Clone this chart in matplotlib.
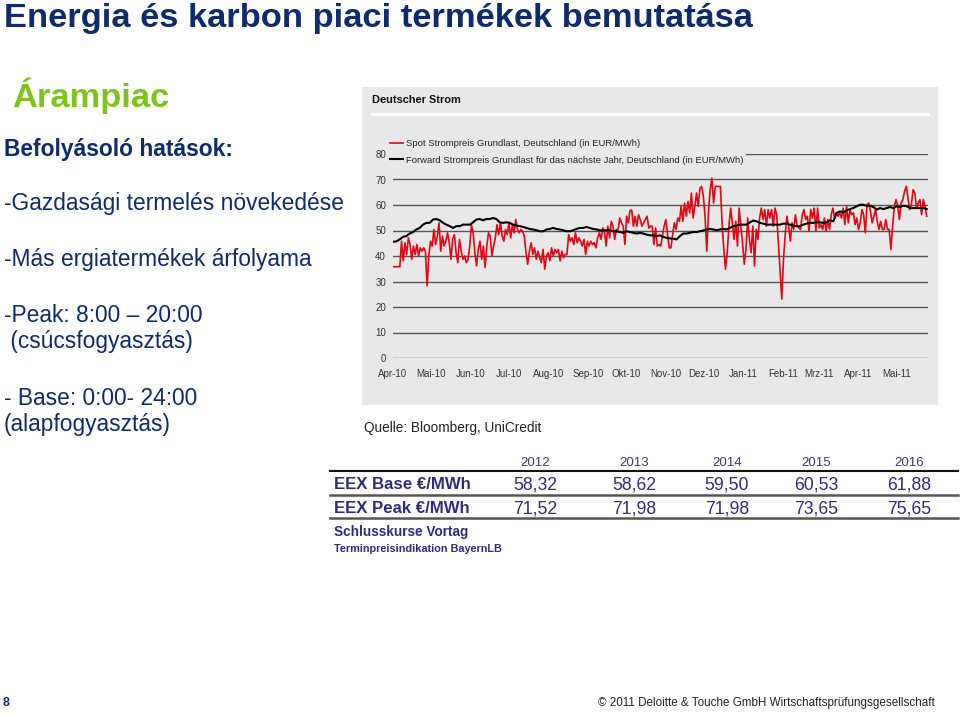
import matplotlib
matplotlib.use("Agg")
import matplotlib.pyplot as plt
from matplotlib.patches import Rectangle
from matplotlib.lines import Line2D
import pandas as pd

plt.rcParams['font.family'] = ['Liberation Sans', 'DejaVu Sans']

# ---------------- data ----------------
spot = [35.8, 35.8, 35.8, 35.8, 35.8, 45.8, 38.1, 45.2, 40.6, 47.1, 44.5, 38.7, 43.9, 40.6, 44.5,
        40.0, 43.2, 41.9, 43.2, 41.9, 28.3, 40.0, 45.8, 43.9, 50.4, 44.5, 47.8, 53.0, 41.9, 47.8,
        43.9, 45.8, 49.1, 45.2, 38.7, 46.5, 48.4, 41.3, 37.4, 46.5, 41.9, 38.7, 40.0, 37.4, 38.7,
        43.9, 52.3, 49.1, 41.3, 36.1, 42.6, 45.8, 38.7, 43.9, 35.5, 43.9, 49.1, 47.8, 40.0, 43.9,
        47.1, 52.3, 48.4, 53.0, 47.8, 45.8, 50.4, 48.4, 53.0, 47.1, 52.3, 49.1, 54.3, 50.4, 49.1,
        50.4, 49.7, 47.8, 41.3, 36.8, 41.9, 45.2, 40.6, 43.2, 38.7, 41.9, 39.4, 37.4, 42.6, 34.8,
        40.0, 41.3, 38.1, 43.2, 40.0, 42.6, 41.3, 42.6, 38.1, 41.9, 39.4, 40.6, 40.6, 48.4, 45.8,
        47.1, 44.5, 49.1, 45.2, 47.1, 45.8, 43.9, 46.5, 40.6, 45.8, 43.9, 45.8, 44.5, 45.2, 43.2,
        47.1, 49.1, 46.5, 51.0, 49.7, 43.9, 51.7, 47.1, 53.6, 51.7, 46.5, 50.4, 50.4, 54.9, 53.0,
        51.7, 44.5, 55.6, 53.0, 57.9, 57.9, 51.7, 55.6, 51.7, 56.2, 54.3, 51.7, 53.0, 54.3, 55.6,
        51.0, 51.7,
        51.7, 44.5, 51.0, 43.9, 44.5, 43.9, 47.8, 51.7, 54.3, 48.4, 43.2, 43.2, 48.4, 53.0, 50.4,
        54.9, 53.6, 59.5, 53.6, 60.8, 55.6, 61.4, 56.9, 64.7, 54.9, 59.5, 64.7, 59.5, 66.6, 67.3,
        63.4, 55.6, 41.9, 56.9, 66.0, 70.5, 60.8, 67.3, 67.3, 67.3, 67.3, 53.0, 42.6, 34.8, 41.3,
        51.7, 58.8, 53.0, 46.5, 53.6, 43.9, 58.8, 51.7, 45.2, 36.8, 42.6, 54.9, 46.5, 41.3, 51.7,
        36.1, 50.4, 46.5, 54.9, 58.8, 54.3, 58.2, 51.7, 58.2, 54.9, 58.2, 51.7, 58.8, 56.2, 45.2,
        34.8, 23.1, 38.7, 48.4, 55.6, 51.7, 45.8, 53.0, 50.4, 56.2, 51.7, 51.0, 50.4, 56.2, 58.2,
        54.3, 55.6, 49.7, 58.2, 54.9, 58.8, 49.7, 58.8, 51.0, 52.3, 50.4, 54.9, 49.7, 54.3, 50.4,
        56.2, 58.8, 54.9, 56.9, 55.6, 56.9, 54.9, 58.8, 52.3, 59.5, 53.0, 58.2, 56.2, 56.9, 52.3,
        54.9, 50.4, 53.0, 58.2, 56.2, 49.1, 60.1, 60.8, 57.5, 53.0, 55.6, 58.2, 53.6, 50.4, 53.6,
        50.4, 50.4, 54.3, 50.4, 50.4, 42.6, 51.7, 59.5, 62.1, 59.5, 54.3, 60.8, 62.1, 65.3, 67.3,
        62.7, 58.2, 60.1, 66.0, 64.7, 58.8, 60.8, 62.1, 56.2, 62.1, 59.5, 55.6]

forward = [45.6, 45.7, 46.5, 47.5, 47.8, 48.8, 49.4, 50.4, 51.0, 52.3, 53.0, 53.0, 54.3, 54.5, 54.0,
           53.0, 52.3, 51.7, 51.0, 51.7, 51.7, 52.3, 52.3, 52.3, 53.2, 54.3, 54.5, 54.0, 54.5, 54.5,
           54.9, 54.5, 53.2, 53.0, 53.2, 53.0, 52.3, 51.9, 51.7, 51.4, 51.0, 50.6, 50.4, 50.1, 49.7,
           49.7, 50.4, 50.6, 51.0, 50.6, 50.4, 50.1, 49.7, 49.7, 50.1, 50.6, 51.0, 51.0, 51.4, 51.0,
           50.6, 50.4, 50.1, 50.0, 50.1, 50.1, 49.7, 49.7, 49.4, 49.1, 49.7, 49.4, 49.1, 48.8, 49.1,
           48.8, 48.4, 48.1, 48.1, 47.8, 48.1,
           47.5, 47.1, 46.9, 46.8, 46.5, 47.8, 48.8, 48.8, 49.1, 49.4, 49.4, 49.7, 50.0, 50.4, 50.6,
           50.4, 50.1, 50.4, 50.6, 50.4, 51.0, 51.7, 51.9, 52.3, 52.3, 52.3, 53.2, 53.9, 53.6, 53.0,
           52.7, 52.3, 52.3, 52.3, 52.3, 52.3, 52.7, 52.7, 52.3, 51.9, 51.7, 51.7, 52.3, 52.7, 53.0,
           53.0, 53.2, 53.2, 53.0, 53.2, 54.0, 53.6, 56.9, 57.5, 57.1, 57.9, 58.4, 58.8, 59.5, 60.1,
           60.1, 59.7, 59.7, 59.2, 58.2, 58.8, 58.4, 58.8, 59.2, 58.8, 59.5, 59.2, 59.7, 59.5, 58.8,
           58.8, 58.8, 58.8, 58.8, 58.4]

start_date = "2010-04-01"
end_date = "2011-05-25"
month_labels = ["Apr-10", "Mai-10", "Jun-10", "Jul-10", "Aug-10", "Sep-10", "Okt-10",
                "Nov-10", "Dez-10", "Jan-11", "Feb-11", "Mrz-11", "Apr-11", "Mai-11"]
y_ticks = [0, 10, 20, 30, 40, 50, 60, 70, 80]

spot_label = "Spot Strompreis Grundlast, Deutschland (in EUR/MWh)"
fwd_label = "Forward Strompreis Grundlast für das nächste Jahr, Deutschland (in EUR/MWh)"

table_years = ["2012", "2013", "2014", "2015", "2016"]
eex_base = ["58,32", "58,62", "59,50", "60,53", "61,88"]
eex_peak = ["71,52", "71,98", "71,98", "73,65", "75,65"]

left_lines = ["-Gazdasági termelés növekedése",
              "-Más ergiatermékek árfolyama",
              "-Peak: 8:00 \u2013 20:00",
              " (csúcsfogyasztás)",
              "- Base: 0:00- 24:00",
              "(alapfogyasztás)"]

# ---------------- figure ----------------
W, H = 960, 714
fig = plt.figure(figsize=(W / 100, H / 100), dpi=100)
fig.patch.set_facecolor("white")


def fx(x):
    return x / W


def fy(y):
    return 1 - y / H


NAVY = "#0f2b6b"
TNAVY = "#2c2d7e"
GREEN = "#80c31f"

# slide title & text
fig.text(fx(4), fy(27), "Energia és karbon piaci termékek bemutatása", fontsize=24.8,
         fontweight="bold", color=NAVY, va="baseline", ha="left")
fig.text(fx(12), fy(107), "Árampiac", fontsize=24.8, fontweight="bold", color=GREEN,
         va="baseline", ha="left")
fig.text(fx(4), fy(156), "Befolyásoló hatások:", fontsize=16.4, fontweight="bold",
         color=NAVY, va="baseline", ha="left")
left_baselines = [210, 266, 322, 348, 405, 431]
for s, b in zip(left_lines, left_baselines):
    fig.text(fx(4), fy(b), s, fontsize=16.4, color=NAVY, va="baseline", ha="left")

# chart panel background
fig.patches.append(Rectangle((fx(362), fy(405)), fx(938) - fx(362), fy(87) - fy(405),
                             transform=fig.transFigure, facecolor="#e8e8e8",
                             edgecolor="none", zorder=-5))
fig.text(fx(372), fy(103), "Deutscher Strom", fontsize=7.9, fontweight="bold",
         color="#111111", va="baseline", ha="left")
fig.lines.append(Line2D([fx(372), fx(928)], [fy(114), fy(114)], transform=fig.transFigure,
                        color="white", lw=2.2, zorder=-4))

ax = fig.add_axes([fx(393), fy(358), fx(928) - fx(393), fy(154) - fy(358)])
ax.set_zorder(3)
ax.set_facecolor("none")
dates_spot = pd.date_range(start_date, end_date, periods=len(spot))
dates_fwd = pd.date_range(start_date, end_date, periods=len(forward))

for v in y_ticks[:-1]:
    ax.axhline(v, color="#555555", lw=1.0, zorder=1)
ax.axhline(80, xmin=(746 - 393) / (928 - 393), xmax=1, color="#555555", lw=1.0, zorder=1)

l1, = ax.plot(dates_spot, spot, color="#e30613", lw=1.2, zorder=3, label=spot_label)
l2, = ax.plot(dates_fwd, forward, color="#000000", lw=1.5, zorder=4, label=fwd_label)

ax.set_ylim(0, 80)
ax.set_xlim(pd.Timestamp(start_date), pd.Timestamp("2011-05-26"))
ax.set_yticks(y_ticks)
ax.set_yticklabels([str(v) for v in y_ticks])
month_ticks = pd.date_range("2010-04-01", periods=len(month_labels), freq="MS")
ax.set_xticks(month_ticks)
ax.set_xticklabels(month_labels)
ax.tick_params(axis="both", length=0, labelsize=7, labelcolor="#333333")
ax.tick_params(axis="y", pad=5)
ax.tick_params(axis="x", pad=8)
for sp in ax.spines.values():
    sp.set_visible(False)

leg = ax.legend(handles=[l1, l2], loc="upper left",
                bbox_to_anchor=(fx(390), fy(139)), bbox_transform=fig.transFigure,
                frameon=False, fontsize=6.8, handlelength=1.4, handletextpad=0.3,
                borderpad=0, borderaxespad=0, labelspacing=0.8)
for t in leg.get_texts():
    t.set_color("#222222")

fig.text(fx(364), fy(432), "Quelle: Bloomberg, UniCredit", fontsize=9.8, color="#222222",
         va="baseline", ha="left")

# ---------------- table ----------------
col_x = [535, 634, 727, 816, 909]
for x, s in zip(col_x, table_years):
    fig.text(fx(x), fy(466), s, fontsize=9.5, color="#3a3a7c", ha="center", va="baseline")
fig.lines.append(Line2D([fx(330), fx(958)], [fy(471), fy(471)], transform=fig.transFigure,
                        color="#111111", lw=1.5))
fig.text(fx(334), fy(489), "EEX Base \u20ac/MWh", fontsize=12.1, fontweight="bold",
         color=TNAVY, ha="left", va="baseline")
for x, s in zip(col_x, eex_base):
    fig.text(fx(x), fy(489), s, fontsize=12.7, color=TNAVY, ha="center", va="baseline")
fig.lines.append(Line2D([fx(330), fx(958)], [fy(494.5), fy(494.5)], transform=fig.transFigure,
                        color="#555555", lw=1.8))
fig.text(fx(334), fy(513), "EEX Peak \u20ac/MWh", fontsize=12.1, fontweight="bold",
         color=TNAVY, ha="left", va="baseline")
for x, s in zip(col_x, eex_peak):
    fig.text(fx(x), fy(513), s, fontsize=12.7, color=TNAVY, ha="center", va="baseline")
fig.lines.append(Line2D([fx(330), fx(958)], [fy(517.5), fy(517.5)], transform=fig.transFigure,
                        color="#555555", lw=1.8))
fig.text(fx(334), fy(536), "Schlusskurse Vortag", fontsize=9.8, fontweight="bold",
         color=TNAVY, ha="left", va="baseline")
fig.text(fx(334), fy(552.5), "Terminpreisindikation BayernLB", fontsize=7.8, fontweight="bold",
         color=TNAVY, ha="left", va="baseline")

# ---------------- footer ----------------
fig.text(fx(3), fy(706), "8", fontsize=9, fontweight="bold", color=NAVY, ha="left",
         va="baseline")
fig.text(fx(935), fy(706), "\u00a9 2011 Deloitte & Touche GmbH Wirtschaftsprüfungsgesellschaft",
         fontsize=8.4, color="#222222", ha="right", va="baseline")

fig.savefig("out.png", dpi=100)
